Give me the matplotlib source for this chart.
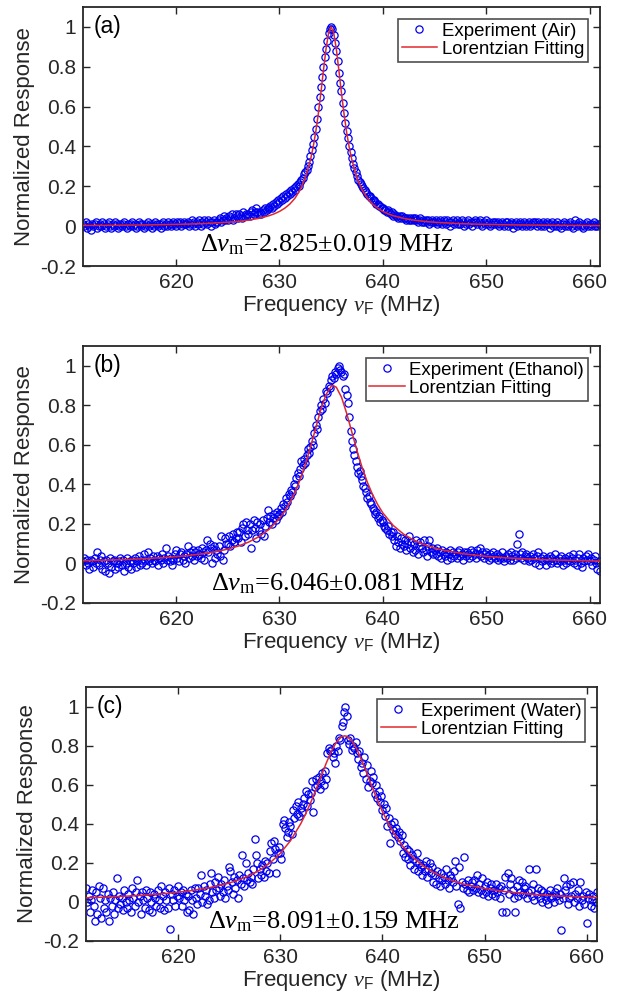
import numpy as np
import matplotlib
matplotlib.use('Agg')
import matplotlib.pyplot as plt
from matplotlib.ticker import FuncFormatter

plt.rcParams['font.family'] = ['Liberation Sans', 'DejaVu Sans']
plt.rcParams['mathtext.fontset'] = 'custom'
plt.rcParams['mathtext.rm'] = 'Liberation Serif'
plt.rcParams['mathtext.it'] = 'Liberation Serif:italic'
plt.rcParams['mathtext.bf'] = 'Liberation Serif:bold'
plt.rcParams['mathtext.sf'] = 'Liberation Sans'

# frequency sweep of the measurement (MHz), 0.125 MHz steps
freq = np.linspace(611, 661, 401)

# measured normalized response, one row per MHz
resp_air = [
    0.01, 0.00, 0.02, -0.01, 0.01, 0.00, -0.02, 0.01,
    0.00, 0.01, 0.02, -0.01, 0.00, 0.01, 0.00, 0.02,
    0.01, -0.01, 0.00, 0.01, 0.02, 0.00, -0.01, 0.01,
    0.00, 0.02, 0.01, -0.01, 0.00, 0.01, 0.00, 0.01,
    0.02, 0.00, -0.01, 0.01, 0.00, 0.01, 0.02, 0.00,
    0.01, -0.01, 0.00, 0.02, 0.01, 0.00, 0.01, -0.01,
    0.00, 0.01, 0.02, 0.00, 0.01, -0.01, 0.01, 0.00,
    0.02, 0.01, 0.00, 0.01, -0.01, 0.01, 0.02, 0.00,
    0.01, 0.00, 0.02, 0.01, 0.00, 0.01, 0.02, 0.01,
    0.00, 0.02, 0.01, 0.02, 0.00, 0.01, 0.02, 0.01,
    0.01, 0.02, 0.00, 0.01, 0.03, 0.01, 0.02, 0.00,
    0.02, 0.01, 0.03, 0.00, 0.02, 0.01, 0.03, 0.02,
    0.01, 0.03, 0.02, 0.00, 0.02, 0.03, 0.01, 0.02,
    0.02, 0.03, 0.04, 0.02, 0.03, 0.05, 0.03, 0.04,
    0.03, 0.05, 0.04, 0.06, 0.03, 0.04, 0.06, 0.05,
    0.04, 0.06, 0.05, 0.04, 0.07, 0.05, 0.06, 0.05,
    0.06, 0.05, 0.07, 0.08, 0.06, 0.07, 0.09, 0.07,
    0.06, 0.07, 0.06, 0.08, 0.07, 0.09, 0.08, 0.09,
    0.09, 0.10, 0.09, 0.11, 0.10, 0.12, 0.11, 0.13,
    0.12, 0.14, 0.13, 0.15, 0.14, 0.16, 0.15, 0.17,
    0.16, 0.18, 0.17, 0.19, 0.18, 0.20, 0.21, 0.20,
    0.22, 0.23, 0.24, 0.26, 0.27, 0.28, 0.30, 0.32,
    0.35, 0.38, 0.41, 0.45, 0.49, 0.54, 0.60, 0.65,
    0.70, 0.75, 0.80, 0.85, 0.89, 0.93, 0.97, 0.99,
    1.00, 0.99, 0.96, 0.92, 0.88, 0.83, 0.77, 0.72,
    0.68, 0.62, 0.57, 0.52, 0.48, 0.44, 0.40, 0.37,
    0.34, 0.31, 0.29, 0.27, 0.25, 0.23, 0.22, 0.21,
    0.20, 0.19, 0.18, 0.17, 0.16, 0.15, 0.15, 0.14,
    0.13, 0.13, 0.12, 0.11, 0.11, 0.10, 0.10, 0.09,
    0.09, 0.08, 0.08, 0.07, 0.08, 0.07, 0.06, 0.07,
    0.05, 0.06, 0.05, 0.05, 0.04, 0.05, 0.04, 0.05,
    0.04, 0.04, 0.03, 0.04, 0.03, 0.04, 0.03, 0.04,
    0.03, 0.04, 0.03, 0.02, 0.03, 0.04, 0.02, 0.03,
    0.02, 0.03, 0.02, 0.03, 0.01, 0.02, 0.03, 0.02,
    0.02, 0.03, 0.01, 0.02, 0.03, 0.02, 0.01, 0.03,
    0.02, 0.01, 0.03, 0.02, 0.00, 0.02, 0.03, 0.01,
    0.02, 0.03, 0.01, 0.02, 0.01, 0.03, 0.02, 0.00,
    0.01, 0.02, 0.03, 0.01, 0.02, 0.00, 0.02, 0.03,
    0.02, 0.01, 0.02, 0.03, 0.01, 0.00, 0.02, 0.01,
    0.03, 0.01, 0.02, 0.00, 0.01, 0.02, 0.01, 0.02,
    0.01, 0.02, 0.00, 0.01, 0.02, 0.01, 0.00, 0.02,
    0.02, 0.00, 0.01, 0.02, 0.01, -0.01, 0.01, 0.02,
    0.00, 0.01, 0.02, 0.01, 0.00, 0.02, 0.01, 0.00,
    0.01, 0.02, 0.00, 0.01, 0.02, 0.01, 0.02, 0.00,
    0.02, 0.01, 0.00, 0.01, 0.02, 0.00, 0.01, 0.02,
    0.01, -0.01, 0.01, 0.02, 0.00, 0.01, 0.00, 0.02,
    0.00, 0.01, -0.01, 0.01, 0.02, 0.00, 0.01, 0.00,
    0.01, 0.02, 0.00, -0.01, 0.01, 0.03, 0.00, 0.01,
    0.02, 0.00, 0.01, -0.01, 0.00, 0.01, 0.02, 0.00,
    0.01, 0.00, 0.01, 0.02, 0.00, 0.01, 0.00, 0.01,
    0.01,
]

resp_ethanol = [
    0.01, 0.03, -0.01, 0.02, 0.00, -0.03, 0.02, 0.01,
    -0.02, 0.03, 0.00, 0.06, -0.01, 0.02, 0.04, -0.03,
    0.01, -0.04, 0.02, 0.00, -0.05, 0.03, -0.02, 0.01,
    0.02, -0.03, 0.00, -0.02, 0.01, 0.03, -0.01, 0.02,
    -0.04, 0.00, 0.03, -0.02, 0.01, -0.03, 0.02, 0.00,
    0.03, -0.02, 0.01, 0.04, -0.01, 0.02, 0.00, 0.05,
    0.02, -0.01, 0.06, 0.01, 0.03, 0.00, 0.04, 0.02,
    0.01, 0.04, -0.01, 0.03, 0.02, 0.05, 0.00, 0.03,
    0.08, 0.02, 0.04, 0.01, 0.03, -0.01, 0.02, 0.05,
    0.07, 0.03, 0.01, 0.05, 0.06, 0.02, 0.04, 0.00,
    0.05, 0.09, 0.03, 0.06, 0.04, 0.07, 0.02, 0.06,
    0.04, 0.07, 0.05, 0.03, 0.08, 0.06, 0.02, 0.07,
    0.12, 0.06, 0.10, 0.08, 0.00, 0.09, 0.03, 0.07,
    0.05, 0.09, 0.04, 0.14, 0.02, 0.07, 0.13, 0.10,
    0.10, 0.14, 0.09, 0.12, 0.15, 0.11, 0.13, 0.16,
    0.13, 0.16, 0.11, 0.18, 0.20, 0.14, 0.21, 0.17,
    0.15, 0.20, 0.08, 0.17, 0.22, 0.18, 0.13, 0.21,
    0.17, 0.20, 0.15, 0.22, 0.14, 0.19, 0.23, 0.27,
    0.21, 0.24, 0.20, 0.23, 0.25, 0.22, 0.26, 0.24,
    0.25, 0.28, 0.26, 0.30, 0.29, 0.33, 0.31, 0.35,
    0.34, 0.37, 0.36, 0.40, 0.39, 0.43, 0.46, 0.44,
    0.48, 0.52, 0.50, 0.53, 0.51, 0.55, 0.58, 0.56,
    0.59, 0.62, 0.60, 0.66, 0.70, 0.68, 0.74, 0.77,
    0.80, 0.78, 0.83, 0.81, 0.87, 0.86, 0.90, 0.89,
    0.93, 0.95, 0.94, 0.97, 0.96, 0.99, 1.00, 0.98,
    0.97, 0.95, 0.96, 0.88, 0.85, 0.81, 0.74, 0.67,
    0.62, 0.58, 0.55, 0.52, 0.49, 0.46, 0.47, 0.44,
    0.42, 0.39, 0.38, 0.36, 0.33, 0.34, 0.31, 0.30,
    0.28, 0.27, 0.25, 0.26, 0.23, 0.24, 0.21, 0.22,
    0.21, 0.19, 0.18, 0.17, 0.19, 0.15, 0.16, 0.14,
    0.16, 0.12, 0.09, 0.14, 0.11, 0.08, 0.13, 0.10,
    0.09, 0.12, 0.07, 0.10, 0.14, 0.08, 0.11, 0.06,
    0.10, 0.07, 0.12, 0.05, 0.09, 0.11, 0.08, 0.06,
    0.12, 0.07, 0.04, 0.09, 0.12, 0.06, 0.08, 0.05,
    0.07, 0.05, 0.08, 0.04, 0.06, 0.03, 0.07, 0.05,
    0.04, 0.06, 0.02, 0.05, 0.07, 0.03, 0.06, 0.04,
    0.05, 0.03, 0.06, 0.07, 0.04, 0.05, 0.02, 0.06,
    0.04, 0.06, 0.05, 0.03, 0.07, 0.04, 0.06, 0.05,
    0.03, 0.07, 0.05, 0.08, 0.04, 0.06, 0.03, 0.05,
    0.06, 0.04, 0.02, 0.05, 0.03, 0.06, 0.04, 0.03,
    0.05, 0.02, 0.04, 0.03, 0.06, 0.03, 0.01, 0.04,
    0.03, 0.05, 0.02, 0.06, 0.04, 0.02, 0.05, 0.03,
    0.10, 0.15, 0.05, 0.03, 0.06, 0.02, 0.04, 0.05,
    0.03, 0.01, 0.04, 0.02, 0.05, 0.03, 0.00, 0.04,
    0.06, -0.01, 0.03, 0.01, 0.04, 0.02, -0.01, 0.03,
    0.02, 0.04, 0.00, 0.03, 0.01, 0.05, 0.02, 0.00,
    0.03, 0.01, 0.04, -0.01, 0.02, 0.03, 0.00, 0.02,
    0.04, 0.01, 0.03, 0.05, 0.00, 0.02, -0.01, 0.03,
    0.05, 0.00, -0.02, 0.03, 0.01, 0.04, 0.02, 0.05,
    0.01, 0.03, -0.01, 0.02, 0.04, 0.00, -0.03, 0.01,
    -0.04,
]

resp_water = [
    0.07, 0.00, 0.03, -0.05, 0.01, 0.06, -0.02, -0.10,
    0.05, -0.06, 0.08, 0.02, -0.08, 0.07, -0.03, 0.01,
    -0.05, 0.04, -0.10, 0.02, -0.02, 0.05, -0.06, 0.01,
    0.12, -0.03, 0.03, -0.01, 0.02, -0.04, 0.06, 0.00,
    -0.03, 0.04, 0.01, -0.05, 0.07, 0.02, -0.02, 0.05,
    0.11, 0.00, 0.03, -0.06, 0.05, 0.01, -0.03, 0.06,
    0.02, -0.04, 0.05, 0.00, -0.05, 0.04, 0.02, -0.02,
    0.06, 0.01, -0.03, 0.08, 0.03, -0.04, 0.05, 0.01,
    -0.03, 0.07, -0.14, 0.04, 0.01, 0.06, -0.02, 0.03,
    0.08, 0.02, 0.05, -0.02, 0.06, 0.01, 0.04, -0.05,
    0.03, -0.04, 0.06, 0.01, -0.06, 0.07, 0.02, -0.01,
    0.07, 0.04, 0.14, 0.00, 0.08, 0.03, 0.06, -0.01,
    0.01, 0.09, 0.15, 0.05, 0.02, 0.10, 0.06, 0.13,
    0.07, 0.03, 0.09, 0.05, 0.11, 0.02, 0.08, 0.06,
    0.18, 0.16, 0.10, 0.04, 0.13, 0.07, 0.11, 0.02,
    0.14, 0.09, 0.24, 0.12, 0.08, 0.20, 0.11, 0.15,
    0.10, 0.13, 0.09, 0.17, 0.32, 0.24, 0.20, 0.12,
    0.17, 0.14, 0.19, 0.13, 0.21, 0.16, 0.20, 0.15,
    0.26, 0.30, 0.22, 0.31, 0.27, 0.15, 0.25, 0.28,
    0.25, 0.22, 0.40, 0.42, 0.38, 0.33, 0.36, 0.41,
    0.39, 0.35, 0.47, 0.43, 0.49, 0.45, 0.51, 0.44,
    0.48, 0.46, 0.50, 0.53, 0.57, 0.49, 0.55, 0.52,
    0.56, 0.62, 0.46, 0.59, 0.63, 0.60, 0.64, 0.58,
    0.62, 0.66, 0.60, 0.67, 0.63, 0.76, 0.79, 0.77,
    0.78, 0.74, 0.76, 0.71, 0.80, 0.77, 0.84, 0.83,
    0.90, 0.92, 0.97, 1.00, 0.95, 0.83, 0.81, 0.84,
    0.78, 0.80, 0.79, 0.82, 0.76, 0.73, 0.77, 0.69,
    0.71, 0.66, 0.74, 0.63, 0.70, 0.59, 0.62, 0.67,
    0.61, 0.64, 0.55, 0.60, 0.53, 0.57, 0.51, 0.54,
    0.47, 0.50, 0.44, 0.48, 0.39, 0.43, 0.30, 0.40,
    0.37, 0.41, 0.35, 0.38, 0.33, 0.36, 0.31, 0.34,
    0.25, 0.29, 0.23, 0.27, 0.22, 0.26, 0.19, 0.24,
    0.22, 0.17, 0.21, 0.25, 0.16, 0.20, 0.18, 0.14,
    0.19, 0.16, 0.21, 0.13, 0.17, 0.20, 0.15, 0.18,
    0.10, 0.14, 0.09, 0.16, 0.12, 0.08, 0.15, 0.11,
    0.13, 0.09, 0.17, 0.11, 0.07, 0.14, 0.12, 0.10,
    0.16, 0.21, 0.08, -0.01, 0.18, -0.03, 0.10, 0.07,
    0.23, 0.09, 0.06, 0.11, 0.05, 0.08, 0.10, 0.06,
    0.11, 0.07, 0.14, 0.05, 0.09, 0.06, 0.12, 0.04,
    0.08, 0.05, 0.10, 0.03, 0.07, 0.09, 0.04, 0.06,
    0.03, 0.09, 0.05, 0.07, 0.02, 0.08, -0.05, 0.06,
    0.13, -0.05, 0.15, 0.04, 0.09, 0.12, 0.06, 0.02,
    -0.05, 0.08, 0.03, 0.11, 0.05, 0.10, 0.04, 0.07,
    0.08, 0.02, 0.05, 0.17, 0.06, 0.03, 0.09, 0.01,
    0.17, 0.04, 0.07, 0.02, 0.06, 0.00, 0.05, 0.03,
    0.01, 0.04, -0.01, 0.06, 0.02, 0.03, 0.00, 0.05,
    0.03, 0.07, 0.01, 0.04, -0.145, 0.02, 0.12, 0.06,
    0.08, -0.01, 0.02, 0.09, 0.03, 0.10, 0.00, 0.04,
    0.02, 0.06, -0.02, 0.10, 0.01, 0.03, -0.01, 0.05,
    -0.11, 0.02, 0.04, -0.02, 0.01, 0.03, -0.03, 0.00,
    0.05,
]

# Lorentzian fit curves
fit_air_freq = [611, 613, 615, 617, 619, 621, 623, 625, 626, 627, 628, 629,
                629.5, 630, 630.5, 631, 631.5, 632, 632.5, 633, 633.25, 633.5,
                633.75, 634, 634.25, 634.5, 634.75, 635, 635.25, 635.5, 635.75,
                636, 636.25, 636.5, 636.75, 637, 637.5, 638, 638.5, 639, 639.5,
                640, 640.5, 641, 642, 643, 644, 645, 647, 649, 651, 653, 655,
                657, 659, 661]
fit_air = [0.0035, 0.0041, 0.0050, 0.0061, 0.0077, 0.0101, 0.0137, 0.0196,
           0.0240, 0.0302, 0.0391, 0.0525, 0.0619, 0.0739, 0.0897, 0.1109,
           0.1401, 0.1815, 0.2420, 0.3328, 0.3945, 0.4700, 0.5608, 0.6662,
           0.7801, 0.8887, 0.9696, 1.0, 0.9696, 0.8887, 0.7801, 0.6662,
           0.5608, 0.4700, 0.3945, 0.3328, 0.2420, 0.1815, 0.1401, 0.1109,
           0.0897, 0.0739, 0.0619, 0.0525, 0.0391, 0.0302, 0.0240, 0.0196,
           0.0137, 0.0101, 0.0077, 0.0061, 0.0050, 0.0041, 0.0035, 0.0029]

fit_ethanol_freq = [611, 613, 615, 617, 619, 621, 623, 624, 625, 626, 627, 628,
                    629, 630, 630.5, 631, 631.5, 632, 632.5, 633, 633.5, 634,
                    634.5, 635, 635.2, 635.5, 636, 636.5, 637, 637.5, 638,
                    638.5, 639, 639.5, 640, 641, 642, 643, 644, 645, 646, 648,
                    650, 652, 654, 656, 658, 661]
fit_ethanol = [0.0138, 0.0164, 0.0197, 0.0242, 0.0303, 0.0390, 0.0521, 0.0611,
               0.0727, 0.0877, 0.1077, 0.1349, 0.1729, 0.2273, 0.2634, 0.3072,
               0.3603, 0.4245, 0.5006, 0.5884, 0.6838, 0.7775, 0.8542, 0.8961,
               0.9000, 0.8912, 0.8411, 0.7596, 0.6644, 0.5700, 0.4845, 0.4107,
               0.3488, 0.2977, 0.2556, 0.1923, 0.1485, 0.1175, 0.0950, 0.0782,
               0.0654, 0.0475, 0.0360, 0.0282, 0.0227, 0.0186, 0.0155, 0.0122]

fit_water_freq = [611, 613, 615, 617, 619, 621, 623, 625, 626, 627, 628, 629,
                  630, 631, 632, 632.5, 633, 633.5, 634, 634.5, 635, 635.5, 636,
                  636.3, 636.5, 637, 637.5, 638, 638.5, 639, 639.5, 640, 641,
                  642, 643, 644, 645, 646, 647, 648, 650, 652, 654, 656, 658, 661]
fit_water = [0.0212, 0.0249, 0.0296, 0.0358, 0.0441, 0.0555, 0.0720, 0.0965,
             0.1136, 0.1352, 0.1631, 0.1997, 0.2481, 0.3128, 0.3991, 0.4515,
             0.5103, 0.5746, 0.6423, 0.7095, 0.7704, 0.8180, 0.8453, 0.8500,
             0.8479, 0.8253, 0.7812, 0.7224, 0.6560, 0.5880, 0.5228, 0.4628,
             0.3617, 0.2847, 0.2270, 0.1838, 0.1511, 0.1259, 0.1063, 0.0907,
             0.0682, 0.0529, 0.0422, 0.0344, 0.0285, 0.0222]

panels = ['(a)', '(b)', '(c)']
media = ['Air', 'Ethanol', 'Water']
widths = ['2.825\u00b10.019', '6.046\u00b10.081', '8.091\u00b10.159']
xticks = [620, 630, 640, 650, 660]
yticks = [-0.2, 0, 0.2, 0.4, 0.6, 0.8, 1]

W, H = 634, 993
fig = plt.figure(figsize=(W / 100, H / 100), dpi=100)

# axes boxes in pixels: left, top, right, bottom
boxes = [(83, 7, 600, 266), (83, 346, 600, 603), (86, 687, 597, 941)]
text_pos = [(622.3, -0.125), (623.4, -0.135), (622.9, -0.138)]

series = [(resp_air, fit_air_freq, fit_air),
          (resp_ethanol, fit_ethanol_freq, fit_ethanol),
          (resp_water, fit_water_freq, fit_water)]

edge = '#262626'
for i in range(3):
    l, t, r, b = boxes[i]
    ax = fig.add_axes([l / W, 1 - b / H, (r - l) / W, (b - t) / H])
    resp, ffreq, fval = series[i]
    ax.plot(freq, resp, 'o', ls='none', mfc='none', mec='#0000ee',
            ms=5.2, mew=0.9, label='Experiment (%s)' % media[i], zorder=2)
    ax.plot(ffreq, fval, '-', color='#e0282c', lw=1.1,
            label='Lorentzian Fitting', zorder=3)
    ax.set_xlim(611, 661)
    ax.set_ylim(-0.2, 1.1)
    ax.set_xticks(xticks)
    ax.set_yticks(yticks)
    ax.yaxis.set_major_formatter(FuncFormatter(lambda v, p: '%g' % round(v, 2)))
    ax.tick_params(direction='in', top=True, right=True, length=5,
                   width=1.0, labelsize=15, colors=edge, pad=5)
    for s in ax.spines.values():
        s.set_linewidth(1.3)
        s.set_color(edge)
    ax.set_ylabel('Normalized Response', fontsize=16, color=edge, labelpad=4)
    ax.set_xlabel(r'Frequency $\nu_{\mathsf{F}}$ (MHz)', fontsize=16,
                  color=edge, labelpad=1)
    ax.text(612.0, 1.0, panels[i], fontsize=16.5, va='center', ha='left')
    tx, ty = text_pos[i]
    ax.text(tx, ty, r'$\Delta v_{\mathrm{m}}$=' + widths[i] + ' MHz',
            family='Liberation Serif', fontsize=19, ha='left', va='baseline')
    leg = ax.legend(loc='upper right', fontsize=13.4, frameon=True,
                    fancybox=False, edgecolor='#222222', handlelength=1.9,
                    handletextpad=0.25, borderpad=0.2, labelspacing=0.05,
                    borderaxespad=0.65, numpoints=1, markerscale=1.0)
    leg.get_frame().set_linewidth(1.2)

fig.savefig('out.png', dpi=100)
